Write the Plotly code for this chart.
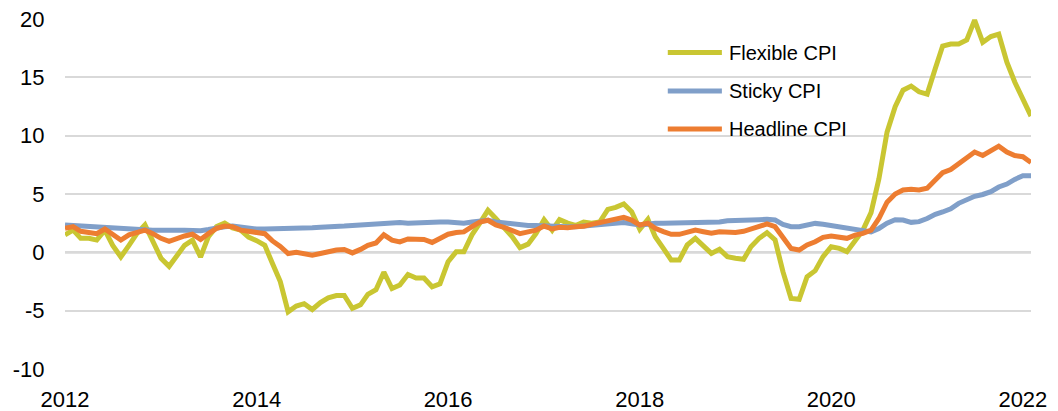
import pandas as pd
import plotly.graph_objects as go

# Monthly observations, Jan 2012 - Feb 2022 (percent)
start_month = "2012-01-01"
n_months = 122

flexible_cpi = [
    1.5, 1.9, 1.2, 1.2, 1.05, 1.9, 0.6, -0.4, 0.6, 1.6, 2.35, 1.05,
    -0.5, -1.2, -0.4, 0.6, 1.05, -0.4, 1.35, 2.2, 2.5, 2.1, 1.9, 1.3,
    1.0, 0.6, -0.9, -2.5, -5.1, -4.6, -4.4, -4.9, -4.3, -3.9, -3.7, -3.7,
    -4.8, -4.5, -3.6, -3.2, -1.7, -3.1, -2.8, -1.9, -2.2, -2.2, -2.95, -2.7,
    -0.8, 0.05, 0.05, 1.5, 2.5, 3.6, 2.9, 2.2, 1.35, 0.4, 0.7, 1.6,
    2.8, 1.9, 2.8, 2.5, 2.3, 2.6, 2.5, 2.6, 3.68, 3.85, 4.14, 3.48,
    1.97, 2.83, 1.34, 0.34, -0.66, -0.66, 0.63, 1.2, 0.48, -0.09, 0.26, -0.37,
    -0.5, -0.6, 0.48, 1.2, 1.68, 1.06, -1.66, -3.95, -4.03, -2.09, -1.57, -0.37,
    0.48, 0.34, 0.06, 1.06, 1.9, 3.4, 6.3, 10.3, 12.48, 13.9, 14.25, 13.76,
    13.56, 15.76, 17.68, 17.85, 17.85, 18.2, 19.9, 18.0, 18.5, 18.7, 16.3, 14.6,
    13.2, 11.68,
]

sticky_cpi = [
    2.35, 2.3, 2.25, 2.2, 2.15, 2.2, 2.1, 2.0, 1.95, 1.95, 1.9, 1.9,
    1.9, 1.85, 1.9, 1.9, 1.85, 1.85, 1.95, 2.1, 2.2, 2.25, 2.15, 2.05,
    2.0, 2.0, 2.0, 2.0, 2.05, 2.05, 2.1, 2.1, 2.15, 2.15, 2.2, 2.25,
    2.3, 2.35, 2.4, 2.45, 2.5, 2.5, 2.55, 2.5, 2.55, 2.55, 2.6, 2.6,
    2.6, 2.55, 2.5, 2.6, 2.7, 2.75, 2.6, 2.5, 2.4, 2.35, 2.3, 2.3,
    2.25, 2.2, 2.2, 2.2, 2.2, 2.25, 2.35, 2.45, 2.5, 2.55, 2.55, 2.45,
    2.35, 2.4, 2.5, 2.5, 2.5, 2.5, 2.5, 2.5, 2.55, 2.55, 2.6, 2.7,
    2.75, 2.72, 2.75, 2.8, 2.83, 2.77, 2.4, 2.2, 2.2, 2.34, 2.48, 2.4,
    2.28, 2.14, 2.06, 1.95, 1.77, 1.75, 2.05, 2.5, 2.8, 2.77, 2.57, 2.63,
    2.9, 3.26, 3.46, 3.74, 4.2, 4.5, 4.8, 4.96, 5.2, 5.6, 5.85, 6.25,
    6.56, 6.56,
]

headline_cpi = [
    2.05, 2.2, 1.8, 1.75, 1.6, 2.0, 1.5, 1.05, 1.5, 1.75, 1.9, 1.6,
    1.2, 0.95, 1.2, 1.4, 1.55, 1.1, 1.6, 2.05, 2.25, 2.2, 1.9, 1.75,
    1.7, 1.6, 1.0, 0.5, -0.1, 0.0, -0.1, -0.25, -0.1, 0.1, 0.2, 0.25,
    -0.05, 0.25, 0.6, 0.8, 1.5, 1.05, 0.9, 1.15, 1.1, 1.1, 0.85, 1.15,
    1.55, 1.7, 1.75, 2.2, 2.6, 2.75, 2.35, 2.15, 1.85, 1.6, 1.75, 1.9,
    2.25, 2.0, 2.15, 2.1, 2.2, 2.23, 2.4, 2.57, 2.75, 2.91, 3.0, 2.77,
    2.34, 2.5, 2.06, 1.77, 1.54, 1.54, 1.77, 1.91, 1.77, 1.63, 1.77, 1.71,
    1.71, 1.8, 1.97, 2.26, 2.43, 2.2, 1.2, 0.34, 0.2, 0.63, 0.91, 1.28,
    1.4, 1.28, 1.2, 1.48, 1.63, 1.9, 2.9, 4.3, 5.0, 5.34, 5.4, 5.34,
    5.5, 6.2, 6.83, 7.1, 7.6, 8.0, 8.6, 8.3, 8.7, 9.1, 8.6, 8.3,
    8.2, 7.7,
]

series_names = ["Flexible CPI", "Sticky CPI", "Headline CPI"]
series_colors = ["#C9C632", "#809FC9", "#ED7D31"]

x_tick_values = ["2012-01-01", "2014-01-01", "2016-01-01", "2018-01-01", "2020-01-01", "2022-01-01"]
x_tick_labels = ["2012", "2014", "2016", "2018", "2020", "2022"]
y_tick_values = [-10, -5, 0, 5, 10, 15, 20]
y_tick_labels = ["-10", "-5", "0", "5", "10", "15", "20"]

dates = pd.date_range(start_month, periods=n_months, freq="MS")

FONT = "Liberation Sans, Arial, sans-serif"
fig = go.Figure()
for name, vals, col in zip(series_names, [flexible_cpi, sticky_cpi, headline_cpi], series_colors):
    fig.add_trace(go.Scatter(
        x=dates, y=vals, mode="lines", name=name,
        line=dict(color=col, width=5), showlegend=False,
    ))

# zero line (darker)
fig.add_shape(type="line", xref="paper", yref="y", x0=0, x1=1, y0=0, y1=0,
              line=dict(color="#8C8C8C", width=2), layer="below")

# custom legend (long line samples like the original)
leg_y = [0.904, 0.794, 0.686]
for name, col, yy in zip(series_names, series_colors, leg_y):
    fig.add_shape(type="line", xref="paper", yref="paper",
                  x0=0.624, x1=0.680, y0=yy, y1=yy,
                  line=dict(color=col, width=5))
    fig.add_annotation(xref="paper", yref="paper", x=0.685, y=yy, text=name,
                       showarrow=False, xanchor="left", yanchor="middle",
                       font=dict(family=FONT, size=20, color="#000000"))

fig.update_layout(
    width=1058, height=411,
    margin=dict(l=65, r=27, t=19, b=42),
    paper_bgcolor="white", plot_bgcolor="white",
    font=dict(family=FONT, size=22, color="#000000"),
    showlegend=False,
)
fig.update_xaxes(
    range=["2012-01-01", "2022-02-01"],
    tickvals=x_tick_values, ticktext=x_tick_labels,
    showgrid=False, zeroline=False, showline=False, automargin=False,
    ticks="outside", ticklen=11, tickcolor="rgba(0,0,0,0)",
    tickfont=dict(family=FONT, size=22, color="#000000"),
)
fig.update_yaxes(
    range=[-10, 20],
    tickvals=y_tick_values, ticktext=y_tick_labels,
    showgrid=True, gridcolor="#D9D9D9", gridwidth=1.5,
    zeroline=False, showline=False, automargin=False,
    ticks="outside", ticklen=15, tickcolor="rgba(0,0,0,0)",
    tickfont=dict(family=FONT, size=22, color="#000000"),
)

# remove the browser's default 8px page margin so the figure fills the window
fig.write_html("out.html", config={"displayModeBar": False},
               post_script="document.body.style.margin='0';")
